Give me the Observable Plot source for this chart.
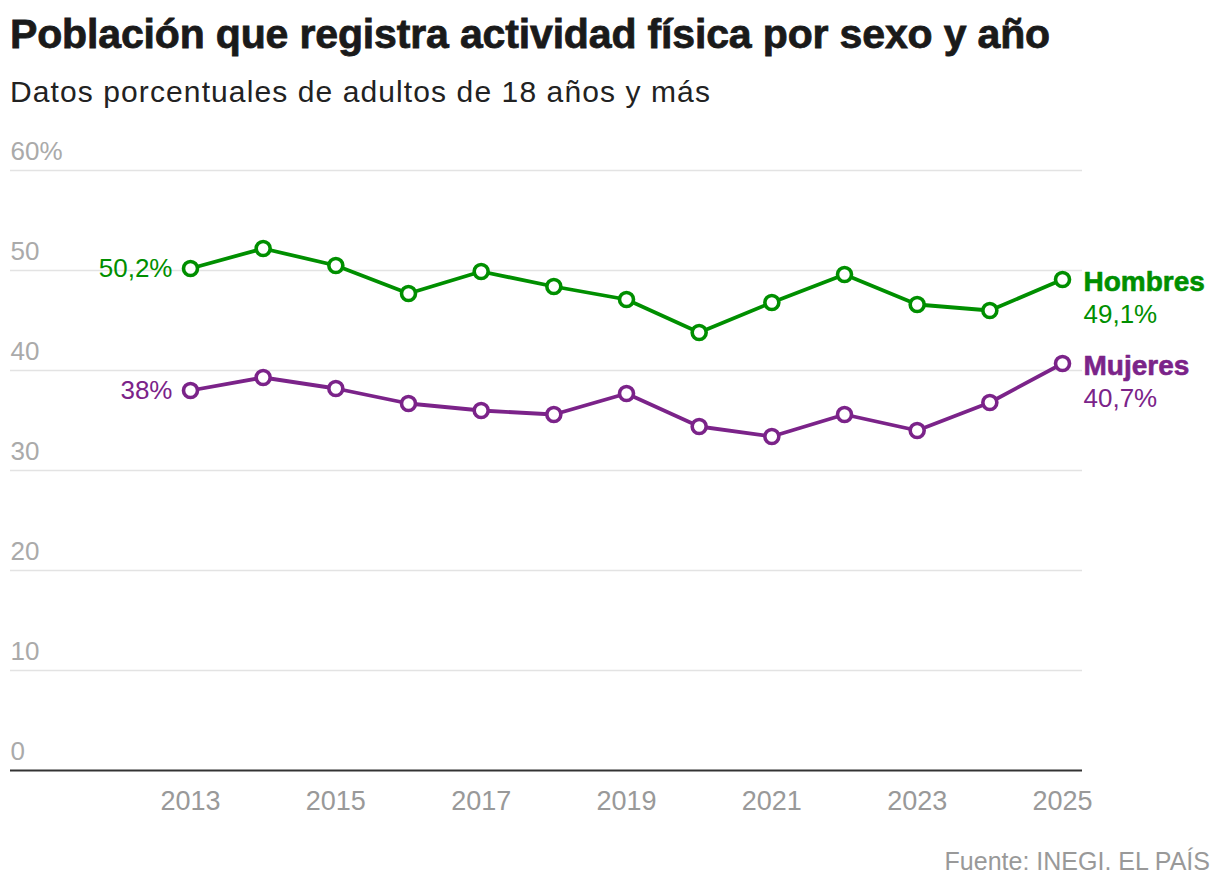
<!DOCTYPE html>
<html>
<head>
<meta charset="utf-8">
<script src="https://cdn.jsdelivr.net/npm/d3@7"></script>
<script src="https://cdn.jsdelivr.net/npm/@observablehq/plot@0.6"></script>
<style>
  body { margin: 0; background: #fff; width: 1220px; height: 896px; position: relative; overflow: hidden; font-family: "Liberation Sans", Arial, sans-serif; }
  #title { position: absolute; left: 10px; top: 12px; font-size: 41px; font-weight: 700; color: #1a1a1a; -webkit-text-stroke: 0.8px #1a1a1a; letter-spacing: -0.15px; white-space: nowrap; line-height: 1.1; }
  #subtitle { position: absolute; left: 10px; top: 75px; font-size: 30px; letter-spacing: 1.1px; color: #222; white-space: nowrap; line-height: 1.1; }
  #chart { position: absolute; left: 0; top: 120px; }
  #caption { position: absolute; right: 10px; top: 847px; font-size: 25px; color: #999; white-space: nowrap; }
</style>
</head>
<body>
<div id="title">Población que registra actividad física por sexo y año</div>
<div id="subtitle">Datos porcentuales de adultos de 18 años y más</div>
<div id="chart"></div>
<div id="caption">Fuente: INEGI. EL PAÍS</div>
<script>
const years = [2013, 2014, 2015, 2016, 2017, 2018, 2019, 2020, 2021, 2022, 2023, 2024, 2025];
const hombres = [50.2, 52.2, 50.5, 47.7, 49.9, 48.4, 47.1, 43.8, 46.8, 49.6, 46.6, 46.0, 49.1];
const mujeres = [38.0, 39.3, 38.2, 36.7, 36.0, 35.6, 37.7, 34.4, 33.4, 35.6, 34.0, 36.8, 40.7];
const seriesNames = ["Hombres", "Mujeres"];
const seriesColors = ["#008f00", "#7b2389"];
const yTicks = [0, 10, 20, 30, 40, 50, 60];
const xTicks = [2013, 2015, 2017, 2019, 2021, 2023, 2025];

const fmt = v => v.toLocaleString("es-ES", {maximumFractionDigits: 1}) + "%";

const data = [];
years.forEach((y, i) => {
  data.push({year: y, value: hombres[i], serie: "Hombres"});
  data.push({year: y, value: mujeres[i], serie: "Mujeres"});
});
const firsts = seriesNames.map(s => data.find(d => d.serie === s && d.year === years[0]));
const lasts = seriesNames.map(s => data.find(d => d.serie === s && d.year === years[years.length - 1]));

const chart = Plot.plot({
  width: 1220,
  height: 720,
  marginLeft: 10,
  marginRight: 138,
  marginTop: 50,
  marginBottom: 70,
  style: {fontFamily: "'Liberation Sans', Arial, sans-serif", background: "transparent"},
  x: {domain: [2010.523, 2025.275], ticks: xTicks},
  y: {domain: [0, 60], ticks: yTicks},
  color: {domain: seriesNames, range: seriesColors},
  marks: [
    Plot.gridY(yTicks.filter(t => t > 0), {stroke: "#e3e3e3", strokeOpacity: 1, strokeWidth: 1.5}),
    Plot.axisY({ticks: yTicks, tickSize: 0, tickPadding: 0, textAnchor: "start", dy: -19,
      fontSize: 26, fill: "#aaa", label: null,
      tickFormat: d => d === 60 ? "60%" : String(d)}),
    Plot.axisX({ticks: xTicks, tickSize: 0, tickPadding: 20, fontSize: 27, fill: "#999", label: null, tickFormat: d => String(d)}),
    Plot.ruleY([0], {stroke: "#333", strokeWidth: 2}),
    Plot.line(data, {x: "year", y: "value", z: "serie", stroke: "serie", strokeWidth: 3.8}),
    Plot.dot(data, {x: "year", y: "value", stroke: "serie", fill: "white", r: 7, strokeWidth: 3.6}),
    Plot.text(firsts, {x: "year", y: "value", text: d => fmt(d.value), fill: "serie", textAnchor: "end", dx: -18, fontSize: 26}),
    Plot.text(lasts, {x: "year", y: "value", text: "serie", fill: "serie", stroke: "serie", strokeWidth: 0.6, textAnchor: "start", dx: 21, dy: 3, fontSize: 28, fontWeight: "bold"}),
    Plot.text(lasts, {x: "year", y: "value", text: d => fmt(d.value), fill: "serie", textAnchor: "start", dx: 21, dy: 35, fontSize: 26})
  ]
});
document.getElementById("chart").appendChild(chart);
</script>
</body>
</html>
